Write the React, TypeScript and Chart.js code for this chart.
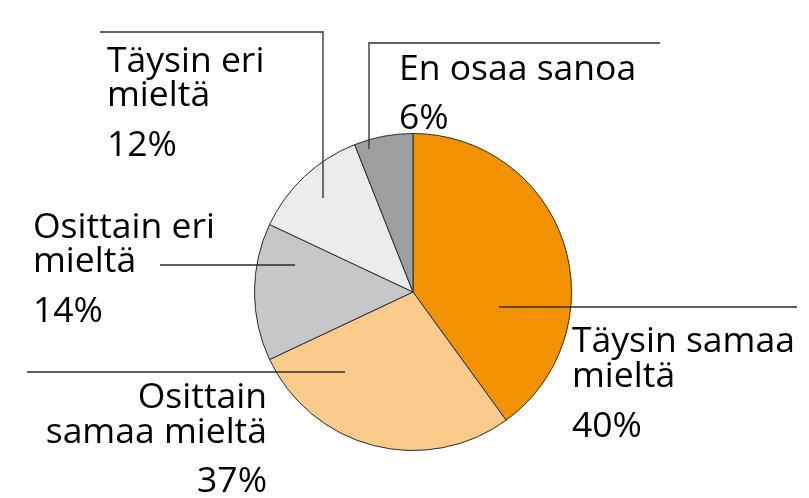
import React, { useEffect, useRef } from "react";
import { Chart, registerables } from "chart.js";

Chart.register(...registerables);

const categories = [
  "Täysin samaa mieltä",
  "Osittain samaa mieltä",
  "Osittain eri mieltä",
  "Täysin eri mieltä",
  "En osaa sanoa",
];
// slice sizes as drawn in the picture
const values = [40, 28, 14, 12, 6];
// percentages as printed on the labels
const printedLabels = ["40%", "37%", "14%", "12%", "6%"];
const labelLines = [
  ["Täysin samaa", "mieltä"],
  ["Osittain", "samaa mieltä"],
  ["Osittain eri", "mieltä"],
  ["Täysin eri", "mieltä"],
  ["En osaa sanoa"],
];
const colors = ["#F39200", "#FBCB8C", "#C6C7C9", "#EBECEC", "#9D9EA0"];

// label layout, offsets relative to pie centre (px)
type Layout = {
  path: [number, number][];
  tx: number;
  align: CanvasTextAlign;
  lines: number[];
  pct: number;
};
const layouts: Layout[] = [
  { path: [[86, 15], [384, 15]], tx: 159, align: "left", lines: [60, 95], pct: 145 },
  { path: [[-68, 80], [-386, 80]], tx: -146, align: "right", lines: [116, 151], pct: 200 },
  { path: [[-118, -27], [-253, -27]], tx: -380, align: "left", lines: [-54, -20], pct: 30 },
  { path: [[-90, -94], [-90, -260], [-313, -260]], tx: -306, align: "left", lines: [-220, -186], pct: -136 },
  { path: [[-44, -143], [-44, -249], [247, -249]], tx: -14, align: "left", lines: [-212], pct: -163 },
];

const labelPlugin = {
  id: "outLabels",
  afterDraw(chart: any) {
    const ctx = chart.ctx;
    const meta = chart.getDatasetMeta(0);
    const arc = meta.data[0];
    if (!arc) return;
    const cx = arc.x;
    const cy = arc.y;
    ctx.save();
    ctx.strokeStyle = "#2b2b2b";
    ctx.lineWidth = 1.3;
    layouts.forEach((l, i) => {
      ctx.beginPath();
      l.path.forEach(([dx, dy], k) => {
        if (k === 0) ctx.moveTo(cx + dx, cy + dy);
        else ctx.lineTo(cx + dx, cy + dy);
      });
      ctx.stroke();
      ctx.fillStyle = "#000";
      ctx.font = "500 35.5px 'Open Sans'";
      ctx.textAlign = l.align;
      ctx.textBaseline = "alphabetic";
      labelLines[i].forEach((t, j) => {
        ctx.fillText(t, cx + l.tx, cy + l.lines[j]);
      });
      ctx.fillText(printedLabels[i], cx + l.tx, cy + l.pct);
    });
    ctx.restore();
  },
};

export default function App() {
  const ref = useRef<HTMLCanvasElement>(null);
  useEffect(() => {
    if (!ref.current) return;
    const chart = new Chart(ref.current, {
      type: "pie",
      data: {
        labels: categories,
        datasets: [
          {
            data: values,
            backgroundColor: colors,
            borderColor: "#2b2b2b",
            borderWidth: 1,
          },
        ],
      },
      options: {
        responsive: true,
        maintainAspectRatio: false,
        animation: false,
        layout: { padding: { left: 254, right: 237, top: 133, bottom: 47 } },
        plugins: {
          legend: { display: false },
          tooltip: { enabled: false },
        },
      },
      plugins: [labelPlugin],
    });
    return () => chart.destroy();
  }, []);
  return (
    <div style={{ position: "absolute", left: 0, top: 0, width: 809, height: 498, background: "#fff" }}>
      <canvas ref={ref} />
    </div>
  );
}
